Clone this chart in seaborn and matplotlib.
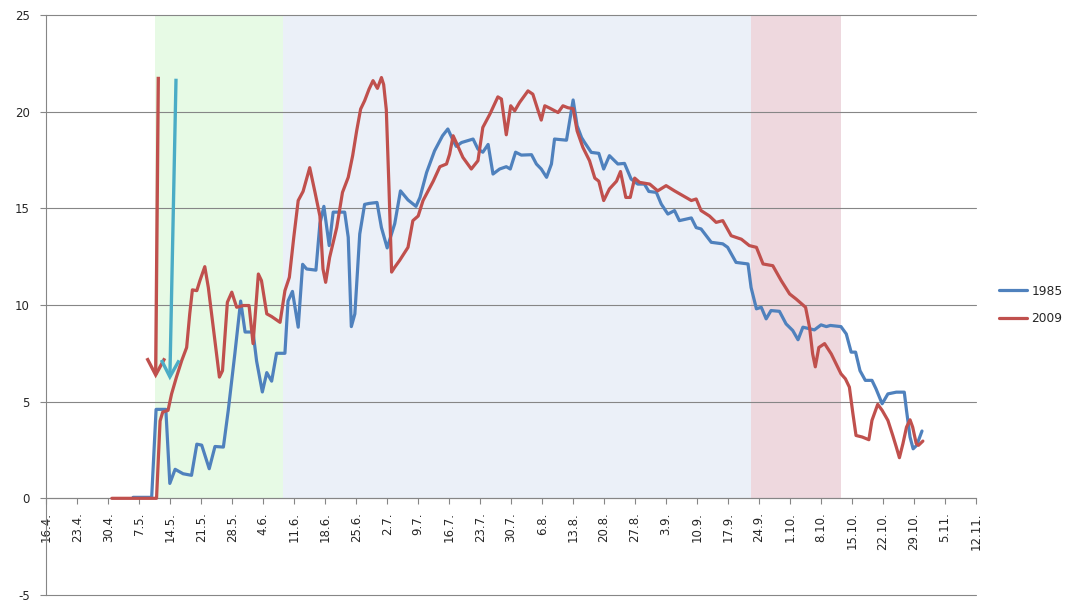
import matplotlib
matplotlib.use("Agg")
import matplotlib.pyplot as plt
import seaborn as sns
import pandas as pd

# x values: days since 16 April
tick_days = list(range(0, 211, 7))
tick_labels = ["16.4.", "23.4.", "30.4.", "7.5.", "14.5.", "21.5.", "28.5.", "4.6.",
               "11.6.", "18.6.", "25.6.", "2.7.", "9.7.", "16.7.", "23.7.", "30.7.",
               "6.8.", "13.8.", "20.8.", "27.8.", "3.9.", "10.9.", "17.9.", "24.9.",
               "1.10.", "8.10.", "15.10.", "22.10.", "29.10.", "5.11.", "12.11."]

days_1985 = [19.6, 23.8, 24.8, 27.0, 27.9, 29.1, 30.9, 32.8, 34.0, 35.1, 36.8, 38.1, 40.0,
             41.1, 42.6, 43.9, 44.9, 46.7, 47.5, 48.8, 49.8, 50.9, 52.0, 53.9, 54.6, 55.6,
             56.9, 57.9, 58.8, 60.9, 61.8, 62.7, 63.9, 64.8, 67.4, 68.2, 68.9, 69.7, 70.8,
             71.9, 72.9, 74.7, 75.7, 77.0, 78.7, 80.0, 81.7, 83.5, 84.4, 85.9, 87.7, 89.5,
             90.7, 91.9, 92.6, 93.8, 96.4, 97.5, 98.6, 99.8, 100.9, 102.4, 103.9, 104.8,
             106.0, 107.3, 109.6, 110.7, 111.8, 113.0, 114.1, 114.8, 117.5, 118.2, 119.0,
             119.9, 120.9, 121.6, 123.1, 124.8, 125.9, 127.2, 129.1, 130.6, 132.1, 133.6,
             135.1, 136.1, 137.8, 138.9, 140.4, 141.9, 143.0, 145.7, 146.8, 147.9, 150.2,
             152.8, 153.9, 155.8, 158.5, 159.2, 160.4, 161.5, 162.6, 163.7, 165.6, 167.1,
             168.6, 169.8, 170.9, 173.5, 175.0, 176.2, 177.1, 179.5, 180.7, 181.8, 182.8,
             183.8, 185.0, 186.5, 187.4, 188.8, 190.1, 192.0, 193.8, 194.3, 195.1, 195.8,
             196.6, 197.8]
vals_1985 = [0.05, 0.05, 4.6, 4.6, 0.77, 1.5, 1.27, 1.19, 2.8, 2.75, 1.53, 2.68, 2.65,
             4.55, 7.5, 10.2, 8.6, 8.6, 7.1, 5.5, 6.5, 6.06, 7.5, 7.5, 10.2, 10.7,
             8.85, 12.1, 11.86, 11.8, 14.2, 15.1, 13.07, 14.8, 14.8, 13.5, 8.88, 9.54, 13.67,
             15.2, 15.25, 15.3, 14.0, 12.95, 14.2, 15.9, 15.43, 15.1, 15.56, 16.85, 17.97, 18.75,
             19.1, 18.5, 18.2, 18.4, 18.58, 18.06, 17.9, 18.3, 16.77, 17.03, 17.15, 17.03,
             17.9, 17.75, 17.77, 17.29, 17.03, 16.6, 17.29, 18.58, 18.52, 19.5, 20.6,
             19.27, 18.66, 18.4, 17.89, 17.84, 17.03, 17.72, 17.29, 17.32, 16.51, 16.25,
             16.25, 15.87, 15.82, 15.22, 14.7, 14.88, 14.36, 14.5, 14.0, 13.93, 13.24,
             13.16, 12.98, 12.2, 12.12, 10.9, 9.8, 9.88, 9.28, 9.71, 9.67, 9.02,
             8.68, 8.2, 8.85, 8.71, 8.97, 8.88, 8.94, 8.88, 8.5, 7.56, 7.56,
             6.6, 6.1, 6.1, 5.67, 4.89, 5.4, 5.49, 5.49, 4.55, 3.17, 2.56,
             2.74, 3.48]

days_2009 = [14.8, 24.9, 25.7, 26.3, 27.5, 28.3, 29.4, 30.6, 31.7, 32.4, 33.0, 34.0, 34.7,
             35.8, 36.6, 37.9, 39.1, 39.8, 40.9, 41.9, 43.0, 44.5, 45.8, 46.7, 47.9, 48.6,
             49.8, 50.9, 52.8, 53.9, 54.9, 55.9, 56.9, 58.0, 59.5, 60.7, 61.8, 62.5, 63.1,
             64.0, 65.6, 66.9, 68.2, 69.2, 70.1, 71.0, 71.9, 72.9, 73.8, 74.8, 75.7, 76.2,
             76.8, 77.4, 78.0, 78.7, 79.8, 81.7, 82.8, 84.0, 85.1, 87.4, 88.9, 90.4, 91.1,
             91.9, 92.6, 94.1, 96.0, 97.5, 98.6, 100.2, 102.0, 102.8, 103.9, 104.9, 105.8,
             106.9, 108.8, 109.9, 111.1, 111.8, 112.6, 113.7, 115.6, 116.7, 117.8, 119.0,
             119.9, 121.2, 122.7, 123.9, 124.8, 125.9, 127.2, 128.8, 129.7, 130.9, 131.9,
             132.9, 134.0, 136.3, 138.1, 140.0, 141.9, 143.8, 145.7, 146.8, 147.9, 149.8,
             151.3, 152.8, 154.7, 157.0, 158.8, 160.4, 161.9, 164.1, 166.0, 167.9, 169.4,
             171.5, 172.4, 173.1, 173.7, 174.5, 175.8, 177.3, 178.4, 179.5, 180.5, 181.4,
             182.2, 182.9, 184.3, 185.8, 186.5, 187.8, 188.8, 190.1, 191.2, 192.0, 192.7,
             193.5, 194.3, 195.1, 195.7, 196.5, 197.0, 198.0]
vals_2009 = [0.0, 0.0, 4.0, 4.46, 4.55, 5.4, 6.27, 7.13, 7.8, 9.54, 10.78, 10.74, 11.26,
             11.98, 10.9, 8.5, 6.27, 6.6, 10.14, 10.66, 9.88, 9.97, 9.97, 8.0, 11.6, 11.26,
             9.54, 9.4, 9.1, 10.74, 11.43, 13.5, 15.4, 15.87, 17.1, 15.82, 14.6, 11.86, 11.17,
             12.46, 14.0, 15.82, 16.6, 17.72, 19.0, 20.13, 20.56, 21.16, 21.6, 21.2, 21.76, 21.4,
             20.1, 16.1, 11.7, 11.95, 12.3, 12.98, 14.36, 14.6, 15.4, 16.4, 17.15, 17.29, 17.8,
             18.75, 18.4, 17.63, 17.03, 17.46, 19.18, 19.87, 20.76, 20.65, 18.8, 20.3, 20.04,
             20.47, 21.07, 20.9, 20.04, 19.56, 20.3, 20.18, 19.95, 20.3, 20.2, 20.15,
             19.0, 18.15, 17.46, 16.56, 16.4, 15.4, 16.0, 16.4, 16.9, 15.56, 15.56,
             16.56, 16.34, 16.25, 15.9, 16.17, 15.9, 15.65, 15.4, 15.48, 14.88, 14.6,
             14.27, 14.36, 13.58, 13.4, 13.07, 12.98, 12.12, 12.03, 11.26, 10.57, 10.3,
             9.88, 8.85, 7.47, 6.8, 7.8, 8.0, 7.47, 6.96, 6.44, 6.18, 5.75,
             4.37, 3.25, 3.17, 3.03, 4.03, 4.86, 4.55, 4.03, 3.25, 2.65, 2.1,
             2.83, 3.68, 4.06, 3.68, 2.83, 2.74, 2.96]

# shaded periods (days since 16 April)
period_starts = [24.5, 53.4, 159.1]
period_ends = [53.4, 159.1, 179.5]
period_colors = ["#E7FAE5", "#EBF0F8", "#EED8DE"]

# arrows: (start day, start value, tip day, tip value)
arrow_red = [25.3, 21.8, 24.7, 6.2]
arrow_cyan = [29.3, 21.7, 27.9, 6.1]

sns.set_style("white")
plt.rcParams["font.family"] = ["DejaVu Sans"]

fig = plt.figure(figsize=(10.73, 6.05), dpi=100)
ax = fig.add_axes([46.3 / 1073, 10 / 605, (976 - 46.3) / 1073, (595 - 14.9) / 605])

for s, e, c in zip(period_starts, period_ends, period_colors):
    ax.axvspan(s, e, ymin=5 / 30, ymax=1, color=c, lw=0, zorder=0)

df85 = pd.DataFrame({"day": days_1985, "val": vals_1985})
df09 = pd.DataFrame({"day": days_2009, "val": vals_2009})
sns.lineplot(data=df85, x="day", y="val", ax=ax, color="#4F81BD", linewidth=2.3,
             label="1985", estimator=None, zorder=3, solid_joinstyle="round")
sns.lineplot(data=df09, x="day", y="val", ax=ax, color="#C0504D", linewidth=2.3,
             label="2009", estimator=None, zorder=3, solid_joinstyle="round")

for arr, col in [(arrow_red, "#C0504D"), (arrow_cyan, "#4BACC6")]:
    ax.annotate("", xy=(arr[2], arr[3]), xytext=(arr[0], arr[1]),
                arrowprops=dict(arrowstyle="->,head_length=0.6,head_width=0.32",
                                color=col, lw=2.4, mutation_scale=20, shrinkA=0, shrinkB=0,
                                joinstyle="miter", capstyle="butt"),
                zorder=4)

ax.set_xlim(0, 210)
ax.set_ylim(-5, 25)
ax.set_yticks([-5, 0, 5, 10, 15, 20, 25])
ax.set_yticklabels(["-5", "0", "5", "10", "15", "20", "25"])
ax.set_xticks(tick_days)
ax.set_xticklabels(tick_labels)
ax.set_xlabel("")
ax.set_ylabel("")

ax.grid(axis="y", color="#868686", linewidth=0.8)
ax.grid(axis="x", visible=False)
ax.set_axisbelow(True)
for gl in ax.get_ygridlines():
    gl.set_clip_on(False)

for side in ["top", "right"]:
    ax.spines[side].set_visible(False)
ax.spines["bottom"].set_position(("data", 0))
ax.spines["bottom"].set_color("#868686")
ax.spines["left"].set_color("#868686")
ax.spines["bottom"].set_linewidth(0.8)
ax.spines["left"].set_linewidth(0.8)
ax.spines["bottom"].set_zorder(2)

ax.tick_params(axis="x", direction="out", length=4, width=0.8, color="#868686",
               labelsize=8.5, pad=6, bottom=True, labelrotation=90)
ax.tick_params(axis="y", direction="out", length=4, width=0.8, color="#868686",
               labelsize=8.5, pad=8, left=True)

ax.get_legend().remove()
handles, labels = ax.get_legend_handles_labels()
fig.legend(handles, labels, loc="center left", bbox_to_anchor=(988 / 1073, 1 - 305 / 605),
           frameon=False, fontsize=8.8, handlelength=2.3, handletextpad=0.35,
           labelspacing=1.2)

fig.savefig("out.png", dpi=100)
